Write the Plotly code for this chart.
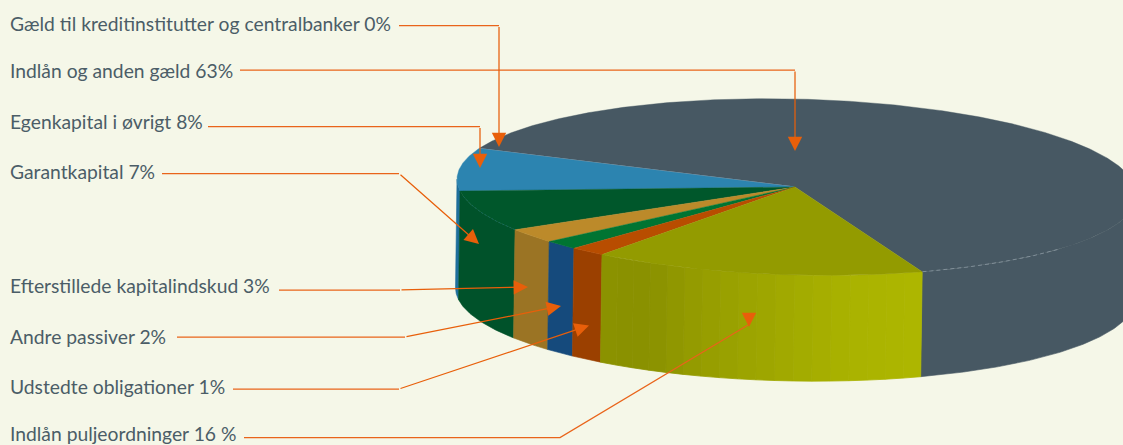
import math
import plotly.graph_objects as go

# ---- data (clockwise from the front-right edge of the olive slice) ----
labels = ["Indlån puljeordninger 16 %", "Udstedte obligationer 1%", "Andre passiver 2%",
          "Efterstillede kapitalindskud 3%", "Garantkapital 7%", "Egenkapital i øvrigt 8%",
          "Gæld til kreditinstitutter og centralbanker 0%", "Indlån og anden gæld 63%"]
values = [15.72, 1.67, 1.61, 2.56, 7.31, 7.89, 0.0, 63.24]
top_colors = ["#939b00", "#b84d00", "#007432", "#bc8a2a", "#00572b", "#2c84b0", "#8d9ba5", "#475863"]
wall_colors = [None, "#9b4000", "#154a7c", "#9b7424", "#00522a", "#1f6f9c", "#475863", "#475863"]

# ---- geometry of the drawn pie (pixels): centre x, centre y, skew ----
W, H = 1123, 445
APEX = (795, 187)
TOP = (797, 187, 0.023)
BOT = (795.5, 293, 0.015)
RX, RY = 340, 88
START = 68.4
BG = "#f5f7e8"
TXT = "#4b5d67"
ORANGE = "#e9641a"
GRAD_X = [600, 650, 700, 750, 800, 850, 925]
GRAD_C = ["#8b9200", "#8a9100", "#959c00", "#9ca400", "#a3ab00", "#a9b200", "#aeb700"]


def pt(c, a):
    r = math.radians(a)
    dx = RX * math.cos(r)
    return c[0] + dx, c[1] + RY * math.sin(r) + c[2] * dx


def arc(c, a0, a1):
    n = max(2, int(abs(a1 - a0) / 0.5) + 1)
    return [pt(c, a0 + (a1 - a0) * i / (n - 1)) for i in range(n)]


def mix(c0, c1, t):
    a = [int(c0[i:i + 2], 16) for i in (1, 3, 5)]
    b = [int(c1[i:i + 2], 16) for i in (1, 3, 5)]
    return "#%02x%02x%02x" % tuple(round(a[i] + (b[i] - a[i]) * t) for i in range(3))


def grad(x):
    for j in range(len(GRAD_X) - 1):
        if x <= GRAD_X[j + 1]:
            t = max(0, (x - GRAD_X[j]) / (GRAD_X[j + 1] - GRAD_X[j]))
            return mix(GRAD_C[j], GRAD_C[j + 1], t)
    return GRAD_C[-1]


fig = go.Figure()


def poly(points, color, lw=0.6):
    fig.add_trace(go.Scatter(
        x=[p[0] for p in points] + [points[0][0]],
        y=[p[1] for p in points] + [points[0][1]],
        mode="lines", fill="toself", fillcolor=color,
        line=dict(color=color, width=lw),
        hoverinfo="skip", showlegend=False))


def wall(a0, a1, color, lw=0.6):
    poly(arc(TOP, a0, a1) + arc(BOT, a1, a0), color, lw)


# slice angle ranges
spans = []
a = START
for v in values:
    b = a + v * 3.6
    spans.append((a, b))
    a = b

# side walls (only the parts facing the viewer, angles 0..180 and 360..540)
for i in range(len(values) - 1, -1, -1):
    a0, a1 = spans[i]
    for lo, hi in ((0, 180), (360, 540)):
        s, e = max(a0, lo), min(a1, hi)
        if e <= s:
            continue
        if wall_colors[i] is None:
            bands = 18
            for k in range(bands):
                u0 = s + (e - s) * k / bands
                u1 = s + (e - s) * (k + 1) / bands
                wall(u0, u1, grad(pt(TOP, (u0 + u1) / 2)[0]), lw=0.8)
        else:
            wall(s, e, wall_colors[i])

# top faces
for i in range(len(values) - 1, -1, -1):
    a0, a1 = spans[i]
    lw = 0.8 if values[i] == 0 else 0.4
    poly([APEX] + arc(TOP, a0, a1), top_colors[i], lw=lw)

# faint edges on the wall tops
f1 = arc(TOP, 40, START)
fig.add_trace(go.Scatter(x=[p[0] for p in f1], y=[p[1] for p in f1], mode="lines",
                         line=dict(color="#8d9ba5", width=0.8, dash="4px,3px"),
                         hoverinfo="skip", showlegend=False))
f2 = arc(TOP, spans[3][1], spans[4][1] - 3)
fig.add_trace(go.Scatter(x=[p[0] for p in f2], y=[p[1] for p in f2], mode="lines",
                         line=dict(color="#1a6f6a", width=0.7, dash="2px,2px"),
                         hoverinfo="skip", showlegend=False))

# ---- label placement and leader lines, same order as labels ----
label_y = [433.5, 386, 336, 285, 171, 121, 23, 70]
leader_x = [
    [244, 560, 748], [233, 399], [177, 405], [279, 400],
    [162, 399], [208, 480], [399, 499], [240, 795],
]
leader_y = [
    [437.5, 437.5, 325], [389, 389], [337, 337], [290, 290],
    [173.5, 173.5], [126.5, 126.5], [25.5, 25.5], [70, 70],
]
# arrow heads: where the head's line comes from, and its tip
tail_x = [749, 399, 405, 400, 399, 480, 499, 795]
tail_y = [313.5, 389, 337, 290, 173.5, 126.5, 25.5, 70]
tip_x = [749, 589, 561, 528, 479, 480, 499, 795]
tip_y = [327, 325.5, 306, 287, 244, 168, 147, 151]

annotations = []
for i, name in enumerate(labels):
    fig.add_trace(go.Scatter(x=leader_x[i], y=leader_y[i], mode="lines",
                             line=dict(color=ORANGE, width=1.25),
                             hoverinfo="skip", showlegend=False))
    annotations.append(dict(
        x=8, y=label_y[i], xref="x", yref="y", text=name, showarrow=False,
        xanchor="left", yanchor="middle",
        font=dict(family="Lato", size=19.3, color=TXT)))
    annotations.append(dict(
        x=tip_x[i], y=tip_y[i], xref="x", yref="y",
        ax=tail_x[i], ay=tail_y[i], axref="x", ayref="y",
        text="", showarrow=True, arrowhead=2, arrowsize=2.3, arrowwidth=1.25,
        arrowcolor="#e85f0a", standoff=0, startstandoff=0))

fig.update_layout(
    width=W, height=H, margin=dict(l=0, r=0, t=0, b=0),
    paper_bgcolor=BG, plot_bgcolor=BG, showlegend=False,
    xaxis=dict(range=[0, W], visible=False, fixedrange=True),
    yaxis=dict(range=[H, 0], visible=False, fixedrange=True),
    annotations=annotations,
)
fig.write_html("out.html", config={"displayModeBar": False},
               post_script="document.body.style.margin='0';document.body.style.background='%s';" % BG)
